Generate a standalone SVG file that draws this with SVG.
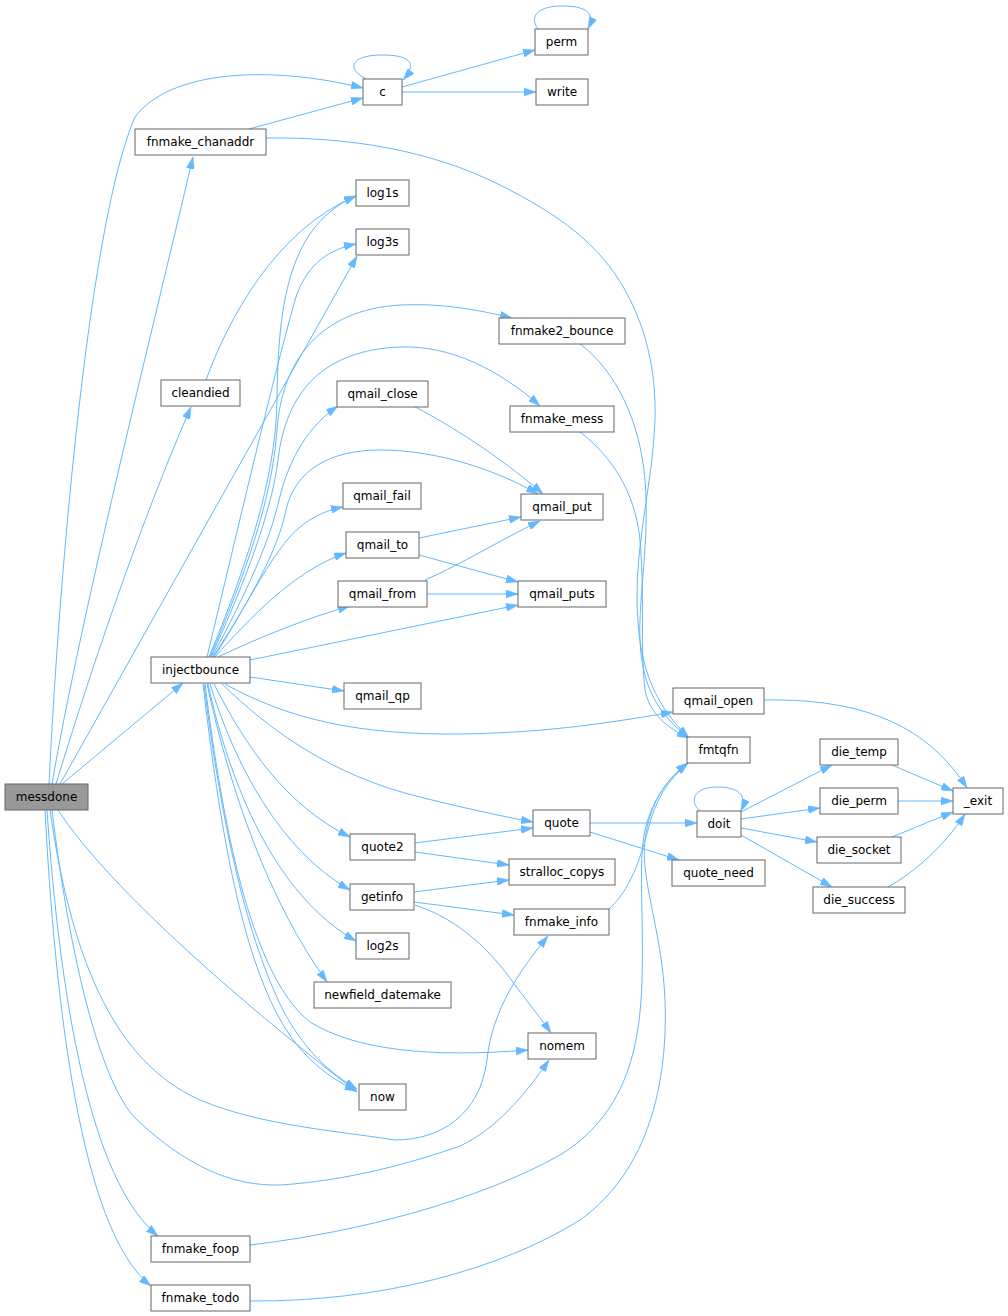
<svg xmlns="http://www.w3.org/2000/svg" width="1008" height="1316" viewBox="0 0 1008 1316">
<style>
.n rect{fill:#fff;stroke:#666;stroke-width:1}
.n.m rect{fill:#999}
.n text{font-family:"DejaVu Sans","Liberation Sans",sans-serif;font-size:12px;fill:#000;text-anchor:middle}
.e path{fill:none;stroke:#63b8ff;stroke-width:1;marker-end:url(#a)}
</style>
<defs>
<marker id="a" markerWidth="12" markerHeight="8" refX="12" refY="4" orient="auto" markerUnits="userSpaceOnUse"><path d="M0,0 L12,4 L0,8 z" fill="#63b8ff" stroke="#63b8ff" stroke-width="0.5"/></marker>
</defs>
<rect width="1008" height="1316" fill="#fff"/>
<g id="edges" class="e">
<path d="M49,784 C60,560 90,220 135,117 C170,70 270,65 363,88"/>
<path d="M52,784 C80,620 150,340 193,157"/>
<path d="M56,784 C100,640 150,500 191,407"/>
<path d="M60,784 L357,256"/>
<path d="M62,784 L183,683"/>
<path d="M58,810 C110,890 250,1010 357,1092"/>
<path d="M50,810 C70,950 110,1060 200,1100 C260,1125 330,1130 395,1140 C440,1140 480,1115 487,1060 C492,1010 520,970 548,936"/>
<path d="M52,810 C70,960 100,1080 135,1118 C190,1170 240,1190 293,1184 C360,1178 420,1160 460,1146 C495,1130 525,1095 549,1060"/>
<path d="M47,810 C60,1000 90,1180 158,1236"/>
<path d="M45,810 C55,1000 80,1230 151,1286"/>
<path d="M366,79 C345,68 352,55 382,55 C410,55 418,63 403,80"/>
<path d="M402,87 L535,50"/>
<path d="M402,92 L536,92"/>
<path d="M538,29 C528,15 540,6 562,6 C585,6 596,12 588,29"/>
<path d="M249,129 L363,98"/>
<path d="M266,138 C350,137 430,150 500,185 C560,215 600,245 625,290 C650,335 656,380 655,420 C653,480 636,540 637,600 C638,660 650,700 689,738"/>
<path d="M206,380 C228,320 275,230 356,196"/>
<path d="M209,657 C245,570 276,480 277,400 C278,300 290,225 356,196"/>
<path d="M207,657 C240,520 270,390 295,300 C305,268 325,250 356,244"/>
<path d="M210,657 C245,575 272,500 277,430 C282,360 320,310 400,305 C440,303 475,309 512,318"/>
<path d="M211,657 C246,580 272,510 278,460 C286,390 325,350 400,347 C450,345 500,370 540,406"/>
<path d="M212,657 C248,590 270,540 279,500 C290,455 310,425 338,406"/>
<path d="M213,657 C250,600 278,550 286,510 C295,470 330,450 380,450 C440,450 500,472 538,494"/>
<path d="M214,657 C245,610 272,550 300,527 C315,515 328,510 343,507"/>
<path d="M215,657 C250,618 295,570 346,553"/>
<path d="M218,657 C260,637 310,617 350,606"/>
<path d="M250,660 L518,605"/>
<path d="M250,677 L344,691"/>
<path d="M225,684 C290,720 360,735 460,734 C550,733 620,721 673,712"/>
<path d="M222,684 C270,730 330,775 420,797 C460,807 500,816 533,822"/>
<path d="M214,684 C245,745 285,805 350,837"/>
<path d="M210,684 C235,765 280,850 350,890"/>
<path d="M208,684 C230,785 275,895 356,941"/>
<path d="M207,684 C230,790 268,900 327,982"/>
<path d="M205,684 C222,820 250,975 310,1022 C355,1050 430,1058 528,1050"/>
<path d="M203,684 C220,830 240,940 275,1010 C295,1050 322,1075 357,1091"/>
<path d="M204,684 C222,830 248,940 283,1010 C302,1046 326,1071 357,1089"/>
<path d="M580,344 C615,370 640,420 645,480 C650,540 638,600 640,640 C642,690 660,715 689,738"/>
<path d="M580,432 C610,455 635,490 640,540 C645,600 640,650 645,690 C650,715 668,728 689,738"/>
<path d="M415,407 C460,430 510,465 543,494"/>
<path d="M419,538 L521,517"/>
<path d="M419,555 L518,582"/>
<path d="M425,580 C460,565 500,540 540,521"/>
<path d="M427,594 L518,594"/>
<path d="M764,700 C870,698 930,730 967,788"/>
<path d="M415,843 L533,828"/>
<path d="M415,852 L509,865"/>
<path d="M414,892 L509,880"/>
<path d="M414,902 L514,915"/>
<path d="M415,905 C460,920 490,950 515,985 C530,1005 542,1020 551,1033"/>
<path d="M590,823 L697,823"/>
<path d="M590,832 L679,860"/>
<path d="M700,811 C688,800 695,787 717,787 C738,787 748,795 741,811"/>
<path d="M741,812 L832,765"/>
<path d="M741,819 L820,808"/>
<path d="M741,828 L817,842"/>
<path d="M741,835 L832,887"/>
<path d="M892,765 L953,791"/>
<path d="M898,801 L953,801"/>
<path d="M892,837 L953,812"/>
<path d="M888,887 C915,872 945,845 965,814"/>
<path d="M609,909 C630,890 640,860 648,830 C655,800 668,780 688,763"/>
<path d="M250,1245 C360,1232 480,1200 560,1155 C625,1115 640,1050 642,980 C644,920 638,860 645,830 C652,800 668,778 688,763"/>
<path d="M250,1301 C380,1302 500,1270 580,1220 C650,1170 668,1080 665,1000 C662,930 640,880 645,840 C650,800 668,778 688,763"/>
</g>
<g id="messdone" class="n m"><rect x="5" y="784" width="83" height="26"/><text x="46.5" y="801">messdone</text></g>
<g id="c" class="n"><rect x="363" y="79" width="39" height="26"/><text x="382.5" y="96">c</text></g>
<g id="perm" class="n"><rect x="535" y="29" width="53" height="26"/><text x="561.5" y="46">perm</text></g>
<g id="write" class="n"><rect x="536" y="79" width="52" height="26"/><text x="562" y="96">write</text></g>
<g id="fnmake_chanaddr" class="n"><rect x="135" y="129" width="131" height="26"/><text x="200.5" y="146">fnmake_chanaddr</text></g>
<g id="log1s" class="n"><rect x="356" y="180" width="53" height="26"/><text x="382.5" y="197">log1s</text></g>
<g id="log3s" class="n"><rect x="356" y="229" width="53" height="26"/><text x="382.5" y="246">log3s</text></g>
<g id="fnmake2_bounce" class="n"><rect x="499" y="318" width="126" height="26"/><text x="562" y="335">fnmake2_bounce</text></g>
<g id="cleandied" class="n"><rect x="161" y="380" width="79" height="26"/><text x="200.5" y="397">cleandied</text></g>
<g id="qmail_close" class="n"><rect x="337" y="381" width="91" height="26"/><text x="382.5" y="398">qmail_close</text></g>
<g id="fnmake_mess" class="n"><rect x="510" y="406" width="104" height="26"/><text x="562" y="423">fnmake_mess</text></g>
<g id="qmail_fail" class="n"><rect x="343" y="483" width="78" height="26"/><text x="382" y="500">qmail_fail</text></g>
<g id="qmail_put" class="n"><rect x="521" y="494" width="82" height="26"/><text x="562" y="511">qmail_put</text></g>
<g id="qmail_to" class="n"><rect x="346" y="532" width="73" height="26"/><text x="382.5" y="549">qmail_to</text></g>
<g id="qmail_from" class="n"><rect x="338" y="581" width="89" height="26"/><text x="382.5" y="598">qmail_from</text></g>
<g id="qmail_puts" class="n"><rect x="518" y="581" width="88" height="26"/><text x="562" y="598">qmail_puts</text></g>
<g id="injectbounce" class="n"><rect x="151" y="657" width="99" height="26"/><text x="200.5" y="674">injectbounce</text></g>
<g id="qmail_qp" class="n"><rect x="344" y="683" width="77" height="26"/><text x="382.5" y="700">qmail_qp</text></g>
<g id="qmail_open" class="n"><rect x="673" y="688" width="91" height="26"/><text x="718.5" y="705">qmail_open</text></g>
<g id="fmtqfn" class="n"><rect x="687" y="737" width="63" height="26"/><text x="718.5" y="754">fmtqfn</text></g>
<g id="die_temp" class="n"><rect x="820" y="739" width="78" height="26"/><text x="859" y="756">die_temp</text></g>
<g id="die_perm" class="n"><rect x="820" y="788" width="78" height="26"/><text x="859" y="805">die_perm</text></g>
<g id="_exit" class="n"><rect x="953" y="788" width="50" height="26"/><text x="978" y="805">_exit</text></g>
<g id="quote" class="n"><rect x="533" y="810" width="57" height="26"/><text x="561.5" y="827">quote</text></g>
<g id="doit" class="n"><rect x="697" y="811" width="44" height="26"/><text x="719" y="828">doit</text></g>
<g id="quote2" class="n"><rect x="350" y="834" width="65" height="26"/><text x="382.5" y="851">quote2</text></g>
<g id="die_socket" class="n"><rect x="817" y="837" width="84" height="26"/><text x="859" y="854">die_socket</text></g>
<g id="stralloc_copys" class="n"><rect x="509" y="859" width="106" height="26"/><text x="562" y="876">stralloc_copys</text></g>
<g id="quote_need" class="n"><rect x="672" y="860" width="93" height="26"/><text x="718.5" y="877">quote_need</text></g>
<g id="getinfo" class="n"><rect x="350" y="884" width="64" height="26"/><text x="382" y="901">getinfo</text></g>
<g id="die_success" class="n"><rect x="813" y="887" width="92" height="26"/><text x="859" y="904">die_success</text></g>
<g id="fnmake_info" class="n"><rect x="514" y="909" width="95" height="26"/><text x="561.5" y="926">fnmake_info</text></g>
<g id="log2s" class="n"><rect x="356" y="933" width="53" height="26"/><text x="382.5" y="950">log2s</text></g>
<g id="newfield_datemake" class="n"><rect x="314" y="982" width="137" height="26"/><text x="382.5" y="999">newfield_datemake</text></g>
<g id="nomem" class="n"><rect x="528" y="1033" width="68" height="26"/><text x="562" y="1050">nomem</text></g>
<g id="now" class="n"><rect x="359" y="1084" width="47" height="26"/><text x="382.5" y="1101">now</text></g>
<g id="fnmake_foop" class="n"><rect x="151" y="1236" width="99" height="26"/><text x="200.5" y="1253">fnmake_foop</text></g>
<g id="fnmake_todo" class="n"><rect x="151" y="1285" width="99" height="26"/><text x="200.5" y="1302">fnmake_todo</text></g>
</svg>
